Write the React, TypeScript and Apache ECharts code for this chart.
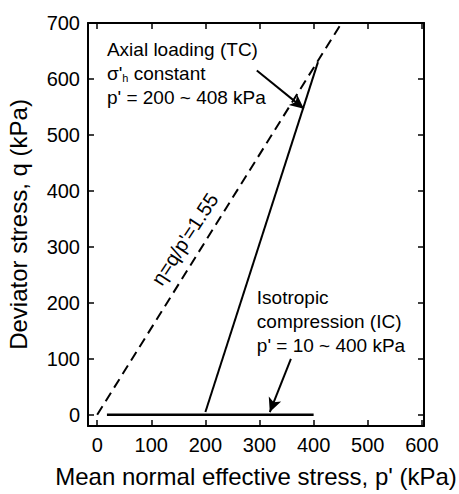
import React, { useEffect, useRef } from "react";
import * as echarts from "echarts";

// ---- data ----
const xTicks = [0, 100, 200, 300, 400, 500, 600];
const yTicks = [0, 100, 200, 300, 400, 500, 600, 700];
const etaP = [0, 451.6];
const etaQ = [0, 700];
const tcP = [200, 408];
const tcQ = [5, 630];
const icP = [18, 400];
const icQ = [0, 0];
const tcArrowFrom = [295, 615];
const tcArrowTo = [382, 547];
const icArrowFrom = [358, 100];
const icArrowTo = [319, 5];
const tcLabelAt = [18, 652];
const tcLabelLines = ["Axial loading (TC)", "σ'{sub|h} constant", "p' = 200 ~ 408 kPa"];
const icLabelAt = [295, 210];
const icLabelLines = ["Isotropic", "compression (IC)", "p' = 10 ~ 400 kPa"];
const etaLabelAt = [162, 314];
const etaLabel = "η=q/p'=1.55";

const FONT = "'Liberation Sans', Arial, Helvetica, sans-serif";

const zip = (a: number[], b: number[]) => a.map((v, i) => [v, b[i]]);

export default function App() {
  const ref = useRef<HTMLDivElement>(null);
  useEffect(() => {
    if (!ref.current) return;
    const chart = echarts.init(ref.current, undefined, { renderer: "svg" });
    const axisLine = { show: true, onZero: false, lineStyle: { color: "#000", width: 2 } };
    const tickStyle = { color: "#000", width: 1.5 };
    const option: any = {
      animation: false,
      backgroundColor: "#fff",
      grid: { left: 88, right: 35, top: 23, bottom: 68, containLabel: false, outerBoundsMode: "none" },
      xAxis: [
        {
          type: "value",
          min: -17,
          max: 604,
          position: "bottom",
          axisLine,
          axisTick: { show: true, inside: true, length: 6, customValues: xTicks, lineStyle: tickStyle },
          axisLabel: { customValues: xTicks, margin: 9, fontSize: 20, color: "#000", fontFamily: FONT },
          splitLine: { show: false },
          name: "Mean normal effective stress, p' (kPa)",
          nameLocation: "middle",
          nameGap: 38,
          nameTextStyle: { fontSize: 24, color: "#000", fontFamily: FONT },
        },
        {
          type: "value",
          min: -17,
          max: 604,
          position: "top",
          axisLine,
          axisTick: { show: true, inside: true, length: 6, customValues: xTicks, lineStyle: tickStyle },
          axisLabel: { show: false },
          splitLine: { show: false },
        },
      ],
      yAxis: [
        {
          type: "value",
          min: -20,
          max: 700,
          position: "left",
          axisLine,
          axisTick: { show: true, inside: true, length: 6, customValues: yTicks, lineStyle: tickStyle },
          axisLabel: { customValues: yTicks, margin: 8, fontSize: 20, color: "#000", fontFamily: FONT },
          splitLine: { show: false },
          name: "Deviator stress, q (kPa)",
          nameLocation: "middle",
          nameRotate: 90,
          nameGap: 58,
          nameTextStyle: { fontSize: 24, color: "#000", fontFamily: FONT },
        },
        {
          type: "value",
          min: -20,
          max: 700,
          position: "right",
          axisLine,
          axisTick: { show: true, inside: true, length: 6, customValues: yTicks, lineStyle: tickStyle },
          axisLabel: { show: false },
          splitLine: { show: false },
        },
      ],
      series: [
        {
          type: "line",
          data: zip(etaP, etaQ),
          showSymbol: false,
          lineStyle: { color: "#000", width: 2, type: [10, 6] },
        },
        {
          type: "line",
          data: zip(tcP, tcQ),
          showSymbol: false,
          lineStyle: { color: "#000", width: 2 },
          markLine: {
            silent: true,
            symbol: ["none", "arrow"],
            symbolSize: [10, 14],
            label: { show: false },
            lineStyle: { color: "#000", width: 2, type: "solid" },
            data: [
              [{ coord: tcArrowFrom }, { coord: tcArrowTo }],
              [{ coord: icArrowFrom }, { coord: icArrowTo }],
            ],
          },
        },
        {
          type: "line",
          data: zip(icP, icQ),
          showSymbol: false,
          lineStyle: { color: "#000", width: 2.5 },
        },
      ],
    };
    chart.setOption(option);

    const px = (pt: number[]) => chart.convertToPixel({ xAxisIndex: 0, yAxisIndex: 0 }, pt) as number[];
    const lineGap = 24;
    const texts: any[] = [];
    const addLines = (at: number[], lines: string[]) => {
      const p = px(at);
      lines.forEach((t, i) => {
        texts.push({
          type: "text",
          x: p[0],
          y: p[1] + i * lineGap,
          style: {
            text: t,
            fill: "#000",
            fontSize: 19,
            fontFamily: FONT,
            align: "left",
            verticalAlign: "middle",
            rich: { sub: { fontSize: 11, verticalAlign: "bottom", padding: [8, 0, 0, 0], fontFamily: FONT } },
          },
        });
      });
    };
    addLines(tcLabelAt, tcLabelLines);
    addLines(icLabelAt, icLabelLines);
    const ep = px(etaLabelAt);
    texts.push({
      type: "text",
      x: ep[0],
      y: ep[1],
      rotation: (57 * Math.PI) / 180,
      style: {
        text: etaLabel,
        fill: "#000",
        fontSize: 20,
        fontFamily: FONT,
        align: "center",
        verticalAlign: "middle",
      },
    });
    chart.setOption({ graphic: texts });

    return () => chart.dispose();
  }, []);
  return <div ref={ref} style={{ width: 459, height: 494, position: "absolute", left: 0, top: 0 }} />;
}
